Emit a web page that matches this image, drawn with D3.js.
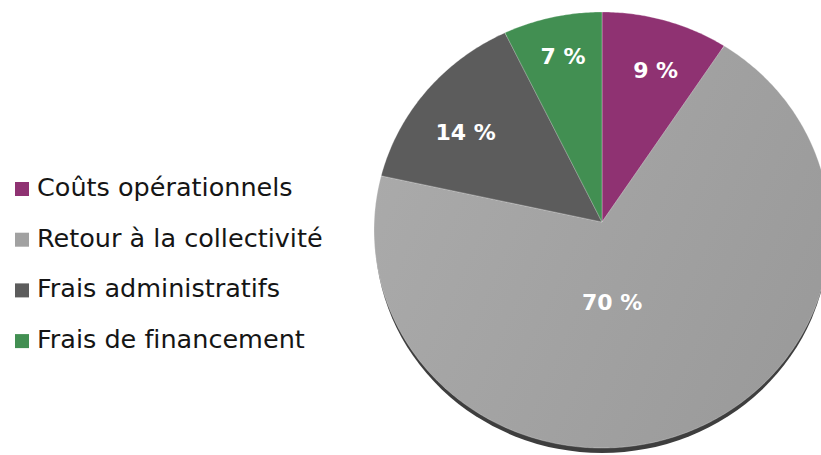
<!DOCTYPE html>
<html><head><meta charset="utf-8">
<script src="https://cdn.jsdelivr.net/npm/d3@7"></script>
<style>body{margin:0;background:#fff;}svg{display:block;}text{font-variant-ligatures:none;}</style>
</head><body>
<svg id="chart" width="821" height="455"></svg>
<script>
const categories = ["Coûts opérationnels", "Retour à la collectivité", "Frais administratifs", "Frais de financement"];
const values = [9, 70, 14, 7];
const labels = ["9 %", "70 %", "14 %", "7 %"];
const colors = ["#8f3272", "#a1a1a1", "#5c5c5c", "#428f52"];

const svg = d3.select("#chart");

// perspective-ish ellipse geometry
const apex = {x: 602, y: 222};
const ell = {cx: 602, cy: 230, rx: 228, ry: 218};
// label placement tweaks (best-fit style offsets relative to computed position)
const labelNudge = [[9, 2], [-20, 4], [-13, 12], [-4, -10]];

const defs = svg.append("defs");
const g1 = defs.append("linearGradient").attr("id", "greyGrad")
  .attr("x1", "0%").attr("y1", "30%").attr("x2", "100%").attr("y2", "70%");
g1.append("stop").attr("offset", "0%").attr("stop-color", "#aaaaaa");
g1.append("stop").attr("offset", "100%").attr("stop-color", "#9a9a9a");

const pie = d3.pie().sort(null).value(d => d)(values);

function ellPoint(a, dy = 0) {
  return [ell.cx + ell.rx * Math.sin(a), ell.cy + dy - ell.ry * Math.cos(a)];
}
const line = d3.line();

function slicePath(d) {
  const pts = [[apex.x, apex.y]];
  const n = Math.max(2, Math.ceil((d.endAngle - d.startAngle) / 0.01));
  for (let i = 0; i <= n; i++) {
    const a = d.startAngle + (d.endAngle - d.startAngle) * i / n;
    pts.push(ellPoint(a));
  }
  return line(pts) + "Z";
}

// 3D edge / shadow
svg.append("ellipse").attr("cx", ell.cx).attr("cy", ell.cy + 5)
  .attr("rx", ell.rx - 1).attr("ry", ell.ry).attr("fill", "#3e3e3e");

const slices = svg.append("g");
slices.selectAll("path").data(pie).join("path")
  .attr("d", d => slicePath(d))
  .attr("fill", (d, i) => i === 1 ? "url(#greyGrad)" : colors[i])
  .attr("stroke", "rgba(255,255,255,0.35)")
  .attr("stroke-width", 0.8)
  .attr("stroke-linejoin", "round");

const fs = 22;
function labelPos(d, i) {
  const m = (d.startAngle + d.endAngle) / 2;
  const r = d.value > 50 ? 82 : 160;
  return [apex.x + r * Math.sin(m) + labelNudge[i][0],
          apex.y - r * Math.cos(m) + labelNudge[i][1]];
}
slices.selectAll("text").data(pie).join("text")
  .attr("x", (d, i) => labelPos(d, i)[0])
  .attr("y", (d, i) => labelPos(d, i)[1] + fs * 0.365)
  .attr("text-anchor", "middle")
  .attr("fill", "#ffffff")
  .attr("font-family", "'DejaVu Sans', sans-serif")
  .attr("font-weight", "bold")
  .attr("font-size", fs)
  .text((d, i) => labels[i]);

// legend
const legend = svg.append("g");
const leg = legend.selectAll("g").data(categories).join("g")
  .attr("transform", (d, i) => `translate(15, ${182 + i * 50.7})`);
leg.append("rect").attr("width", 14).attr("height", 14)
  .attr("fill", (d, i) => colors[i]);
leg.append("text").attr("x", 22).attr("y", 14)
  .attr("fill", "#151515")
  .attr("font-family", "'DejaVu Sans', sans-serif")
  .attr("font-size", 25.5)
  .text(d => d);
</script>
</body></html>
